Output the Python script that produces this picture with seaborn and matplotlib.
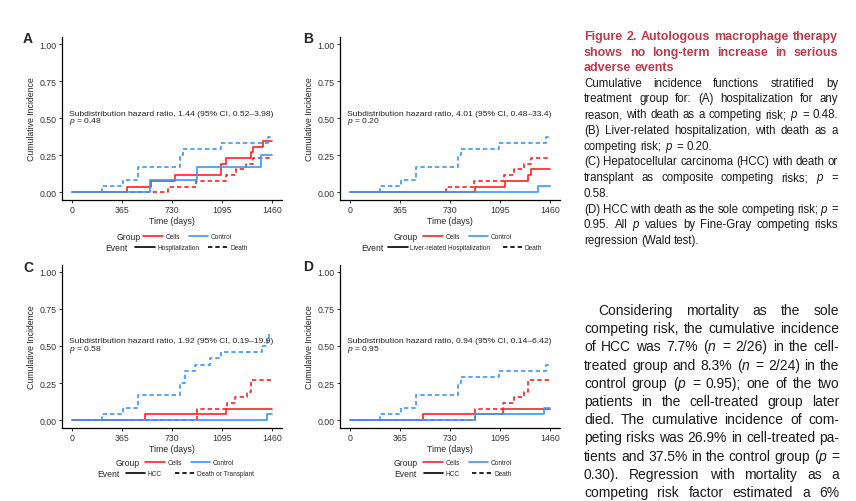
import matplotlib
matplotlib.use("Agg")
import matplotlib.pyplot as plt
import seaborn as sns
from matplotlib.lines import Line2D

sns.set_theme(style="ticks")
plt.rcParams['font.family'] = ['Liberation Sans', 'DejaVu Sans']
plt.rcParams['mathtext.fontset'] = 'custom'
plt.rcParams['mathtext.it'] = 'Liberation Sans:italic'
plt.rcParams['mathtext.rm'] = 'Liberation Sans'

# ---- data: step points (time in days, cumulative incidence) ----
ctrl_death_t = [0, 221, 372, 482, 790, 810, 1085, 1432, 1460]
ctrl_death_v = [0, 0.042, 0.083, 0.167, 0.250, 0.292, 0.333, 0.375, 0.375]

a_cells_hosp_t = [0, 404, 580, 750, 1085, 1127, 1304, 1324, 1394, 1460]
a_cells_hosp_v = [0, 0.038, 0.077, 0.115, 0.192, 0.231, 0.269, 0.308, 0.346, 0.346]
a_ctrl_hosp_t = [0, 567, 910, 1377, 1460]
a_ctrl_hosp_v = [0, 0.083, 0.167, 0.250, 0.250]
a_cells_death_t = [0, 701, 907, 1127, 1200, 1272, 1321, 1460]
a_cells_death_v = [0, 0.038, 0.077, 0.115, 0.154, 0.192, 0.231, 0.231]

b_cells_liver_t = [0, 915, 1128, 1303, 1322, 1460]
b_cells_liver_v = [0, 0.038, 0.077, 0.115, 0.154, 0.154]
b_ctrl_liver_t = [0, 1375, 1460]
b_ctrl_liver_v = [0, 0.042, 0.042]

c_cells_hcc_t = [0, 535, 1122, 1460]
c_cells_hcc_v = [0, 0.038, 0.077, 0.077]
c_ctrl_hcc_t = [0, 1424, 1460]
c_ctrl_hcc_v = [0, 0.042, 0.042]
c_cells_dtx_t = [0, 915, 1129, 1190, 1275, 1304, 1460]
c_cells_dtx_v = [0, 0.077, 0.115, 0.154, 0.192, 0.269, 0.269]
c_ctrl_dtx_t = [0, 221, 372, 482, 788, 825, 900, 1010, 1088, 1390, 1420, 1436, 1460]
c_ctrl_dtx_v = [0, 0.042, 0.083, 0.167, 0.250, 0.333, 0.375, 0.417, 0.458, 0.500, 0.542, 0.583, 0.583]

d_cells_hcc_t = [0, 533, 1116, 1460]
d_cells_hcc_v = [0, 0.038, 0.077, 0.077]
d_ctrl_hcc_t = [0, 910, 1416, 1460]
d_ctrl_hcc_v = [0, 0.042, 0.083, 0.083]
d_cells_death_t = [0, 910, 1116, 1194, 1267, 1303, 1460]
d_cells_death_v = [0, 0.077, 0.115, 0.154, 0.192, 0.269, 0.269]

x_ticks = [0, 365, 730, 1095, 1460]
y_ticks = [0, 0.25, 0.5, 0.75, 1.0]
y_labels = ['0.00', '0.25', '0.50', '0.75', '1.00']
group_labels = ['Cells', 'Control']

RED = '#FF2020'
BLUE = '#3A98F8'
DASH = (0, (2.6, 1.8))
W, H = 856, 502

fig = plt.figure(figsize=(W / 100, H / 100), dpi=100)
fig.patch.set_facecolor('white')


def add_ax(left, top, w, h):
    return fig.add_axes([left / W, 1 - (top + h) / H, w / W, h / H])


def draw_panel(ax, series, hr_text, p_text, ev_labels, leg_pos):
    for t, v, color, dashed in series:
        sns.lineplot(x=t, y=v, ax=ax, color=color, lw=1.2, drawstyle='steps-post',
                     linestyle=DASH if dashed else '-', estimator=None, sort=False)
    ax.set_xlim(-73, 1533)
    ax.set_ylim(-0.05, 1.05)
    ax.set_xticks(x_ticks)
    ax.set_yticks(y_ticks)
    ax.set_yticklabels(y_labels)
    ax.tick_params(labelsize=6.3, length=2.2, width=0.7, pad=1.5, labelcolor='#333333', color='#333333')
    sns.despine(ax=ax)
    for s in ['left', 'bottom']:
        ax.spines[s].set_linewidth(0.9)
        ax.spines[s].set_color('black')
    ax.set_xlabel('Time (days)', fontsize=6.3, labelpad=1.5)
    ax.set_ylabel('Cumulative Incidence', fontsize=6.3, labelpad=2.5)
    ax.text(-20, 0.535, hr_text, fontsize=6.1, va='center', color='#222222')
    ax.text(-20, 0.483, p_text, fontsize=6.1, va='center', color='#222222')

    gt, gl, gy, et, el, ey, ecs = leg_pos
    leg1 = ax.legend(handles=[Line2D([], [], color=RED, lw=1.2), Line2D([], [], color=BLUE, lw=1.2)],
                     labels=group_labels, loc='center left', bbox_to_anchor=(gl, gy), ncol=2,
                     frameon=False, fontsize=4.7, handlelength=3.0, handletextpad=0.4,
                     columnspacing=1.4, borderpad=0, borderaxespad=0)
    ax.add_artist(leg1)
    ax.legend(handles=[Line2D([], [], color='black', lw=1.2), Line2D([], [], color='black', lw=1.2, ls=DASH)],
              labels=ev_labels, loc='center left', bbox_to_anchor=(el, ey), ncol=2,
              frameon=False, fontsize=4.7, handlelength=3.0, handletextpad=0.4,
              columnspacing=ecs, borderpad=0, borderaxespad=0)
    ax.text(gt, gy, 'Group', transform=ax.transAxes, ha='center', va='center', fontsize=6.2)
    ax.text(et, ey, 'Event', transform=ax.transAxes, ha='center', va='center', fontsize=6.2)


axA = add_ax(62, 38, 220, 162.5)
draw_panel(axA,
           [(a_cells_death_t, a_cells_death_v, RED, True), (ctrl_death_t, ctrl_death_v, BLUE, True),
            (a_cells_hosp_t, a_cells_hosp_v, RED, False), (a_ctrl_hosp_t, a_ctrl_hosp_v, BLUE, False)],
           'Subdistribution hazard ratio, 1.44 (95% CI, 0.52–3.98)', '$p$ = 0.48',
           ['Hospitalization', 'Death'], (0.305, 0.368, -0.229, 0.245, 0.332, -0.298, 1.4))

axB = add_ax(340, 38, 220, 162.5)
draw_panel(axB,
           [(a_cells_death_t, a_cells_death_v, RED, True), (ctrl_death_t, ctrl_death_v, BLUE, True),
            (b_cells_liver_t, b_cells_liver_v, RED, False), (b_ctrl_liver_t, b_ctrl_liver_v, BLUE, False)],
           'Subdistribution hazard ratio, 4.01 (95% CI, 0.48–33.4)', '$p$ = 0.20',
           ['Liver-related Hospitalization', 'Death'], (0.30, 0.377, -0.229, 0.145, 0.218, -0.298, 1.9))

axC = add_ax(62, 265.5, 220, 163)
draw_panel(axC,
           [(c_cells_dtx_t, c_cells_dtx_v, RED, True), (c_ctrl_dtx_t, c_ctrl_dtx_v, BLUE, True),
            (c_cells_hcc_t, c_cells_hcc_v, RED, False), (c_ctrl_hcc_t, c_ctrl_hcc_v, BLUE, False)],
           'Subdistribution hazard ratio, 1.92 (95% CI, 0.19–19.9)', '$p$ = 0.58',
           ['HCC', 'Death or Transplant'], (0.298, 0.377, -0.2135, 0.209, 0.29, -0.281, 1.9))

axD = add_ax(340, 265.5, 220, 163)
draw_panel(axD,
           [(d_cells_death_t, d_cells_death_v, RED, True), (ctrl_death_t, ctrl_death_v, BLUE, True),
            (d_cells_hcc_t, d_cells_hcc_v, RED, False), (d_ctrl_hcc_t, d_ctrl_hcc_v, BLUE, False)],
           'Subdistribution hazard ratio, 0.94 (95% CI, 0.14–6.42)', '$p$ = 0.95',
           ['HCC', 'Death'], (0.298, 0.377, -0.2135, 0.298, 0.38, -0.281, 1.9))

for letter, (x, y) in zip('ABCD', [(28, 39), (308, 39), (28, 268), (308, 267)]):
    fig.text(x / W, 1 - y / H, letter, fontsize=10, fontweight='bold', ha='center', va='center')

# ---- caption and body text (justified) ----
renderer = fig.canvas.get_renderer()


def text_width(s, **kw):
    t = fig.text(0, 0, s, **kw)
    w = t.get_window_extent(renderer).width
    t.remove()
    return w


def put_line(line, y, size, left=584, right=839, indent=0, justify=True, **kw):
    words = line.split(' ')
    arts = [fig.text(0, 1 - y / H, w, fontsize=size, va='baseline', ha='left', **kw) for w in words]
    widths = [a.get_window_extent(renderer).width for a in arts]
    space = text_width('a a', fontsize=size, **kw) - text_width('aa', fontsize=size, **kw)
    x = left + indent
    gap = space
    if justify and len(words) > 1:
        gap = max((right - x - sum(widths)) / (len(words) - 1), 0.6 * space)
    for a, w in zip(arts, widths):
        a.set_x(x / W)
        x += w + gap


title_lines = ['Figure 2. Autologous macrophage therapy',
               'shows no long-term increase in serious',
               'adverse events']
for i, line in enumerate(title_lines):
    put_line(line, 40 + 15.7 * i, 9.0, right=838, justify=i < 2,
             fontweight='bold', color='#BF3B4B')

caption_lines = [('Cumulative incidence functions stratified by', True),
                 ('treatment group for: (A) hospitalization for any', True),
                 ('reason, with death as a competing risk; $p$ = 0.48.', True),
                 ('(B) Liver-related hospitalization, with death as a', True),
                 ('competing risk; $p$ = 0.20.', False),
                 ('(C) Hepatocellular carcinoma (HCC) with death or', True),
                 ('transplant as composite competing risks; $p$ =', True),
                 ('0.58.', False),
                 ('(D) HCC with death as the sole competing risk; $p$ =', True),
                 ('0.95. All $p$ values by Fine-Gray competing risks', True),
                 ('regression (Wald test).', False)]
for i, (line, just) in enumerate(caption_lines):
    put_line(line, 86.7 + 15.73 * i, 8.3, right=838, justify=just, color='#1a1a1a')

body_lines = ['Considering mortality as the sole',
              'competing risk, the cumulative incidence',
              'of HCC was 7.7% ($n$ = 2/26) in the cell-',
              'treated group and 8.3% ($n$ = 2/24) in the',
              'control group ($p$ = 0.95); one of the two',
              'patients in the cell-treated group later',
              'died. The cumulative incidence of com-',
              'peting risks was 26.9% in cell-treated pa-',
              'tients and 37.5% in the control group ($p$ =',
              '0.30). Regression with mortality as a',
              'competing risk factor estimated a 6%']
for i, line in enumerate(body_lines):
    put_line(line, 315 + 18.2 * i, 10.0, right=839.5, indent=14 if i == 0 else 0, color='#1a1a1a')

fig.savefig('out.png', dpi=100)
